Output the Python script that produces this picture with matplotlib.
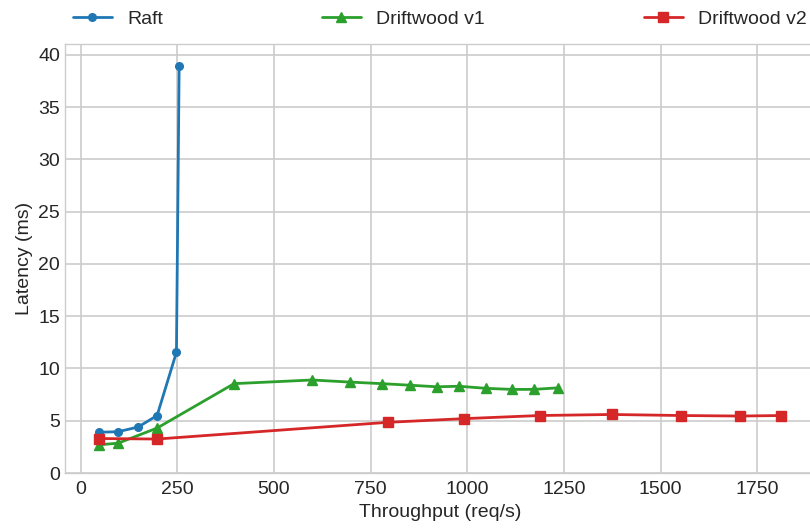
import numpy as np
import matplotlib
matplotlib.use("Agg")
import matplotlib.pyplot as plt

plt.style.use("seaborn-v0_8-whitegrid")
plt.rcParams['font.family'] = ['Liberation Sans', 'DejaVu Sans']

# throughput (req/s) vs latency (ms) for each protocol
raft_tput = [48, 97, 149, 198, 248, 255]
raft_lat = [3.9, 3.95, 4.4, 5.5, 11.55, 38.9]

dw1_tput = [48, 97, 198, 397, 599, 696, 779, 852, 921, 979, 1049, 1115, 1172, 1235]
dw1_lat = [2.7, 2.85, 4.3, 8.55, 8.9, 8.7, 8.55, 8.4, 8.25, 8.3, 8.1, 8.0, 8.0, 8.15]

dw2_tput = [48, 198, 795, 991, 1187, 1373, 1553, 1706, 1811]
dw2_lat = [3.3, 3.25, 4.85, 5.2, 5.5, 5.6, 5.5, 5.45, 5.5]

fig = plt.figure(figsize=(8.1, 5.28), dpi=100)
ax = fig.add_axes([65/810, 55/528, 750/810, 429/528])

ax.plot(raft_tput, raft_lat, color='tab:blue', marker='o', ms=5.5, lw=2, label='Raft')
ax.plot(dw1_tput, dw1_lat, color='tab:green', marker='^', ms=7, lw=2, label='Driftwood v1')
ax.plot(dw2_tput, dw2_lat, color='tab:red', marker='s', ms=7, lw=2, label='Driftwood v2')

ax.set_ylim(0, 41.05)
ax.set_xlabel('Throughput (req/s)', fontsize=14, labelpad=4)
ax.set_ylabel('Latency (ms)', fontsize=14)
ax.tick_params(labelsize=14)
ax.tick_params(axis='x', pad=6)
ax.set_xticks(np.arange(0, 1751, 250))
ax.grid(True, color='#cccccc', lw=1.2)

ax.legend(loc='lower left', bbox_to_anchor=(0, 1.02, 1, 0.1), mode='expand',
          ncol=3, frameon=False, fontsize=14, borderaxespad=0)

fig.savefig('out.png', dpi=100)
